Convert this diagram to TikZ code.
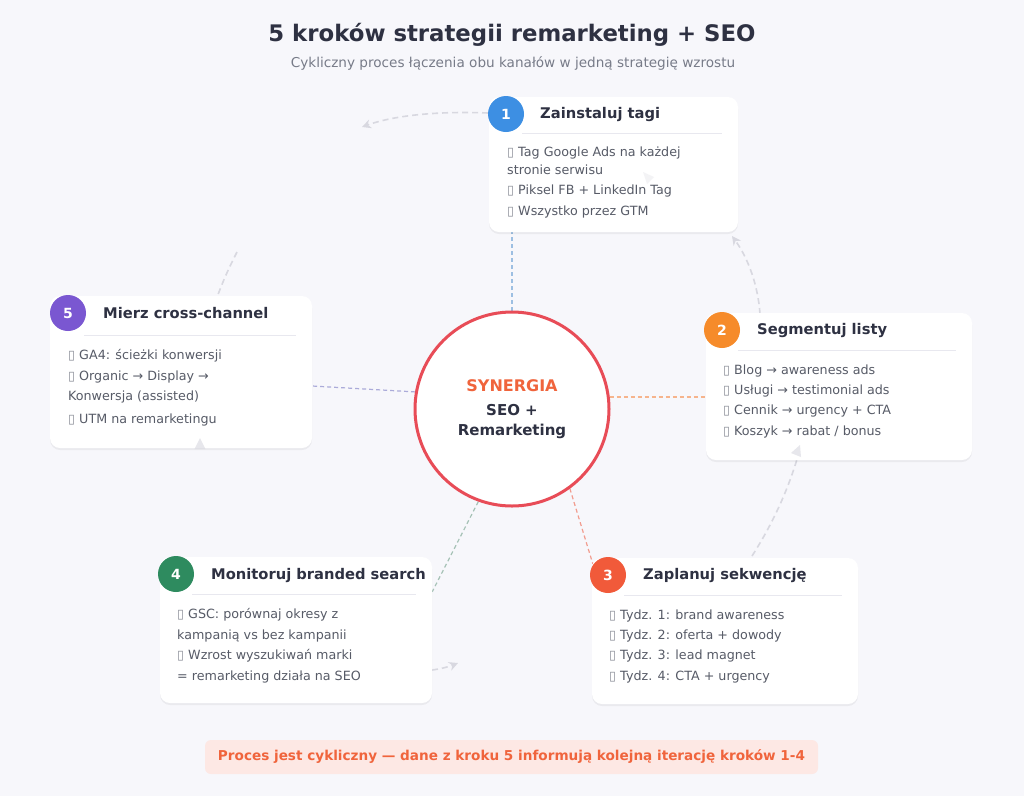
\documentclass[tikz,border=0pt]{standalone}
\usepackage{fontspec}
\setmainfont{DejaVu Sans}
\usetikzlibrary{shadows,arrows.meta,calc}
\definecolor{bg}{HTML}{F7F7FB}
\definecolor{dark}{HTML}{2E3142}
\definecolor{subg}{HTML}{777B88}
\definecolor{itemc}{HTML}{575B67}
\definecolor{tofuc}{HTML}{8A8D97}
\definecolor{cA}{HTML}{3D8FE3}
\definecolor{cB}{HTML}{F68B2A}
\definecolor{cC}{HTML}{F15A3A}
\definecolor{cD}{HTML}{2E8B5F}
\definecolor{cE}{HTML}{7A57D1}
\definecolor{ring}{HTML}{E84C57}
\definecolor{syn}{HTML}{F0643C}
\definecolor{lA}{HTML}{9DBFE2}
\definecolor{lB}{HTML}{F6B48C}
\definecolor{lC}{HTML}{F29C8E}
\definecolor{lD}{HTML}{A6C2B6}
\definecolor{lE}{HTML}{ABABD9}
\definecolor{cyc}{HTML}{D8D8E0}
\definecolor{sepc}{HTML}{E8E8EF}
\definecolor{bannerf}{HTML}{FDE8E4}
\newcommand\tofu{{\color{tofuc}▯}}
\pgfdeclarelayer{bgfill}
\pgfdeclarelayer{back}
\pgfsetlayers{bgfill,back,main}
\begin{document}
\begin{tikzpicture}[x=1pt,y=-1pt,
  card/.style={draw=none, fill=white, rounded corners=10pt, inner sep=0pt,
    drop shadow={shadow xshift=0pt, shadow yshift=-2pt, opacity=0.05, fill=black}},
  badge/.style={circle, minimum size=36pt, inner sep=0pt, text=white,
    font=\bfseries\fontsize{14}{16}\selectfont},
  ttl/.style={anchor=west, inner sep=0pt, text=dark, font=\bfseries\fontsize{14.7}{17}\selectfont},
  item/.style={anchor=west, inner sep=0pt, text height=9pt, text depth=3pt,
    text=itemc, font=\fontsize{12.7}{15}\selectfont},
  sepline/.style={draw=sepc, line width=1pt},
  conn/.style={line width=1.2pt, dash pattern=on 4pt off 3pt},
  cycline/.style={draw=cyc, line width=1.6pt, dash pattern=on 6pt off 4pt},
  cyctip/.style={-{Stealth[length=9pt,width=9pt]}},
  tiphead/.style={fill=cyc, opacity=0.6}
]
\useasboundingbox (0,0) rectangle (1024,796);
\begin{pgfonlayer}{bgfill}
\fill[bg] (0,0) rectangle (1024,796);
\end{pgfonlayer}

% title
\node[text=dark, font=\bfseries\fontsize{22.8}{27}\selectfont] (title) at (512,35) {5 kroków strategii remarketing + SEO};
\node[text=subg, font=\fontsize{13.6}{16}\selectfont] (subtitle) at (513,63) {Cykliczny proces łączenia obu kanałów w jedną strategię wzrostu};

% cycle arcs
\draw[cycline, cyctip] (488,113) .. controls (440,111) and (395,115) .. (362,127);
\draw[cycline] (237,252) .. controls (230,266) and (224,278) .. (216,300);
\draw[cycline, cyctip] (760,314) .. controls (758,285) and (748,258) .. (732,236);
\draw[cycline] (752,556) .. controls (775,520) and (790,485) .. (800,449);
\draw[cycline, cyctip] (432,670) .. controls (440,669) and (448,667) .. (458,663);

% center
\node[draw=ring, line width=3pt, fill=white, circle, minimum size=194pt, inner sep=0pt] (c) at (512,409) {};

% cards
\node[card, minimum width=249pt, minimum height=135pt] (k1) at (613.5,164.5) {};
\node[card, minimum width=266pt, minimum height=147pt] (k2) at (839,386.5) {};
\node[card, minimum width=266pt, minimum height=146pt] (k3) at (725,631) {};
\node[card, minimum width=272pt, minimum height=146pt] (k4) at (296,630) {};
\node[card, minimum width=262pt, minimum height=152pt] (k5) at (181,372) {};

% faint arrowheads showing through the cards
\fill[tiphead] (800,445) -- (801,457) -- (791,453) -- cycle;
\fill[tiphead] (200,438) -- (205.5,449) -- (194.5,449) -- cycle;
\fill[tiphead, opacity=0.3] (643,172) -- (654,177) -- (647,184) -- cycle;

% connectors, behind circle and cards
\begin{pgfonlayer}{back}
\draw[conn, draw=lA] (c.north) -- (c.north |- k1.south);
\draw[conn, draw=lB] (c.7) -- (k2.west |- c.7);
\draw[conn, draw=lC] (c.-54) -- ($(k3.north west)+(1,6)$);
\draw[conn, draw=lD] (c.-110) -- ($(k4.north east)+(0,35)$);
\draw[conn, draw=lE] (c.170) -- ($(k5.east)+(0,14)$);
\end{pgfonlayer}

% center text
\node[text=syn, font=\bfseries\fontsize{16}{19}\selectfont] (s1) at (512,386) {SYNERGIA};
\node[text=dark, font=\bfseries\fontsize{15}{18}\selectfont] (s2) at (512,410) {SEO +};
\node[text=dark, font=\bfseries\fontsize{15}{18}\selectfont] (s3) at (512,431) {Remarketing};

% card 1
\node[badge, fill=cA] (b1) at (506,114) {1};
\node[ttl] (t1) at (540,114) {Zainstaluj tagi};
\draw[sepline] (522,133) -- (722,133);
\node[item] (i1a) at (507,153) {\tofu\ Tag Google Ads na każdej};
\node[item] (i1b) at (507,171) {stronie serwisu};
\node[item] (i1c) at (507,191) {\tofu\ Piksel FB + LinkedIn Tag};
\node[item] (i1d) at (507,212) {\tofu\ Wszystko przez GTM};

% card 2
\node[badge, fill=cB] (b2) at (722,330) {2};
\node[ttl] (t2) at (757,330) {Segmentuj listy};
\draw[sepline] (738,350) -- (956,350);
\node[item] (i2a) at (723,371) {\tofu\ Blog → awareness ads};
\node[item] (i2b) at (723,391) {\tofu\ Usługi → testimonial ads};
\node[item] (i2c) at (723,411) {\tofu\ Cennik → urgency + CTA};
\node[item] (i2d) at (723,432) {\tofu\ Koszyk → rabat / bonus};

% card 3
\node[badge, fill=cC] (b3) at (608,575) {3};
\node[ttl] (t3) at (643,575) {Zaplanuj sekwencję};
\draw[sepline] (624,595) -- (842,595);
\node[item] (i3a) at (609,616) {\tofu\ Tydz. 1: brand awareness};
\node[item] (i3b) at (609,636) {\tofu\ Tydz. 2: oferta + dowody};
\node[item] (i3c) at (609,656) {\tofu\ Tydz. 3: lead magnet};
\node[item] (i3d) at (609,677) {\tofu\ Tydz. 4: CTA + urgency};

% card 4
\node[badge, fill=cD] (b4) at (176,574) {4};
\node[ttl] (t4) at (211,575) {Monitoruj branded search};
\draw[sepline] (192,594) -- (416,594);
\node[item] (i4a) at (177,615) {\tofu\ GSC: porównaj okresy z};
\node[item] (i4b) at (177,636) {kampanią vs bez kampanii};
\node[item] (i4c) at (177,656) {\tofu\ Wzrost wyszukiwań marki};
\node[item] (i4d) at (177,677) {= remarketing działa na SEO};

% card 5
\node[badge, fill=cE] (b5) at (68,313) {5};
\node[ttl] (t5) at (103,313) {Mierz cross-channel};
\draw[sepline] (84,335) -- (296,335);
\node[item] (i5a) at (68,356) {\tofu\ GA4: ścieżki konwersji};
\node[item] (i5b) at (68,377) {\tofu\ Organic → Display →};
\node[item] (i5c) at (68,397) {Konwersja (assisted)};
\node[item] (i5d) at (68,420) {\tofu\ UTM na remarketingu};

% banner
\node[fill=bannerf, rounded corners=6pt, minimum width=613pt, minimum height=34pt,
  text=syn, font=\bfseries\fontsize{13.6}{16}\selectfont] (bn) at (511.5,757)
  {Proces jest cykliczny — dane z kroku 5 informują kolejną iterację kroków 1-4};
\end{tikzpicture}
\end{document}
